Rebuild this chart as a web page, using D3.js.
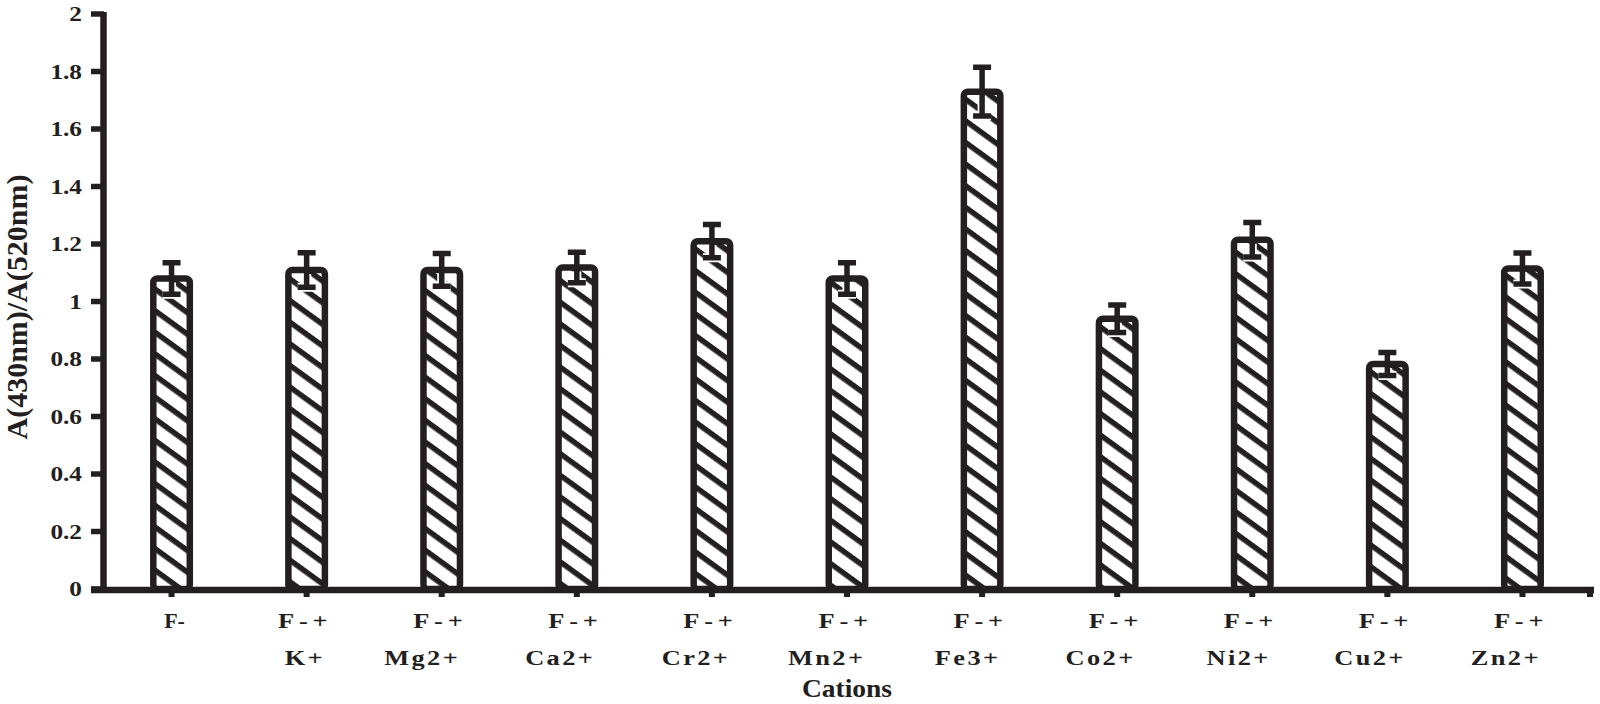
<!DOCTYPE html>
<html>
<head>
<meta charset="utf-8">
<script src="https://cdn.jsdelivr.net/npm/d3@7"></script>
<style>
  body { margin: 0; background: #fff; }
  svg text { font-family: "Liberation Serif", "Times New Roman", serif; font-weight: bold; fill: #231f20; }
</style>
</head>
<body>
<div id="chart"></div>
<script>
// valores
const cations = ["F-", "K+", "Mg2+", "Ca2+", "Cr2+", "Mn2+", "Fe3+", "Co2+", "Ni2+", "Cu2+", "Zn2+"];
const line1 = ["F-", "F-+", "F-+", "F-+", "F-+", "F-+", "F-+", "F-+", "F-+", "F-+", "F-+"];
const line2 = ["", "K+", "Mg2+", "Ca2+", "Cr2+", "Mn2+", "Fe3+", "Co2+", "Ni2+", "Cu2+", "Zn2+"];
const ratio = [1.08, 1.11, 1.11, 1.118, 1.21, 1.08, 1.73, 0.94, 1.215, 0.783, 1.115];
const errors = [0.055, 0.06, 0.057, 0.053, 0.058, 0.055, 0.085, 0.048, 0.06, 0.04, 0.054];
const yTicks = [0, 0.2, 0.4, 0.6, 0.8, 1, 1.2, 1.4, 1.6, 1.8, 2];

const ink = "#231f20";
const width = 1600, height = 704;
const sx = 1.15; // o texto original é um pouco mais largo

const svg = d3.select("#chart")
    .append("svg")
    .attr("width", width)
    .attr("height", height);

// hachura diagonal
const defs = svg.append("defs");
defs.append("pattern")
    .attr("id", "hatch")
    .attr("patternUnits", "userSpaceOnUse")
    .attr("width", 20)
    .attr("height", 17.5)
    .attr("patternTransform", "rotate(36)")
  .append("rect")
    .attr("width", 20)
    .attr("height", 5.5)
    .attr("fill", ink);

const x = d3.scaleBand()
    .domain(cations)
    .range([104, 1590])
    .paddingInner(0)
    .paddingOuter(0);

const y = d3.scaleLinear()
    .domain([0, 2])
    .range([589, 14]);

const barW = 36.5;
const cx = d => x(d) + x.bandwidth() / 2;

// barras
const bars = svg.append("g");
bars.selectAll("rect")
    .data(cations)
    .enter().append("rect")
        .attr("x", d => cx(d) - barW / 2)
        .attr("y", (d, i) => y(ratio[i]))
        .attr("width", barW)
        .attr("height", (d, i) => y(0) - y(ratio[i]))
        .attr("rx", 4)
        .attr("fill", "url(#hatch)")
        .attr("stroke", ink)
        .attr("stroke-width", 6.5);

// barras de erro
const err = svg.append("g");
cations.forEach((c, i) => {
    const xc = cx(c);
    const top = y(ratio[i] + errors[i]);
    const bot = y(ratio[i] - errors[i]);
    const g = err.append("g");
    // contorno branco na parte interna da barra
    g.append("path")
        .attr("d", `M${xc},${y(ratio[i]) + 4}V${bot}M${xc - 9},${bot}H${xc + 9}`)
        .attr("stroke", "#fff")
        .attr("stroke-width", 9)
        .attr("fill", "none");
    g.append("path")
        .attr("d", `M${xc},${top}V${bot}M${xc - 9},${top}H${xc + 9}M${xc - 9},${bot}H${xc + 9}`)
        .attr("stroke", ink)
        .attr("stroke-width", 5.5)
        .attr("fill", "none");
});

// eixo y
const yAxis = svg.append("g");
yAxis.append("line")
    .attr("x1", 103.5).attr("x2", 103.5)
    .attr("y1", 12).attr("y2", 592)
    .attr("stroke", ink).attr("stroke-width", 6.5);
yAxis.selectAll(".tick")
    .data(yTicks)
    .enter().append("line")
        .attr("x1", 91).attr("x2", 104)
        .attr("y1", d => y(d)).attr("y2", d => y(d))
        .attr("stroke", ink).attr("stroke-width", 5.5);
yAxis.selectAll("text")
    .data(yTicks)
    .enter().append("text")
        .attr("transform", d => `translate(82,${y(d)}) scale(${sx},1)`)
        .attr("dy", "0.34em")
        .style("text-anchor", "end")
        .style("font-size", "22px")
        .text(d => d3.format("")(d));

// eixo x
const xAxis = svg.append("g");
xAxis.append("line")
    .attr("x1", 91).attr("x2", 1594)
    .attr("y1", 590).attr("y2", 590)
    .attr("stroke", ink).attr("stroke-width", 6.5);
xAxis.selectAll(".tick")
    .data(cations.map(cx).concat([x.range()[1]]))
    .enter().append("line")
        .attr("x1", d => d).attr("x2", d => d)
        .attr("y1", 590).attr("y2", 597)
        .attr("stroke", ink).attr("stroke-width", 6);

const labels = xAxis.selectAll(".lab")
    .data(cations)
    .enter().append("g")
        .attr("transform", d => `translate(${cx(d)},0)`);
labels.append("text")
    .attr("transform", (d, i) => i === 0 ? "translate(3,628)" : `translate(21,628) scale(1.2,1)`)
    .attr("x", (d, i) => i === 0 ? 0 : 4)
    .style("text-anchor", (d, i) => i === 0 ? "middle" : "end")
    .style("letter-spacing", (d, i) => i === 0 ? "0px" : "4px")
    .style("font-size", "22px")
    .text((d, i) => line1[i]);
labels.append("text")
    .attr("transform", `translate(16,665) scale(1.2,1)`)
    .attr("x", 2)
    .style("text-anchor", "end")
    .style("letter-spacing", "2px")
    .style("font-size", "22px")
    .text((d, i) => line2[i]);

// títulos
svg.append("text")
    .attr("transform", `translate(${(x.range()[0] + x.range()[1]) / 2},697) scale(1.1,1)`)
    .style("text-anchor", "middle")
    .style("font-size", "25px")
    .text("Cations");

svg.append("text")
    .attr("transform", "translate(27,307) rotate(-90)")
    .style("text-anchor", "middle")
    .style("font-size", "30px")
    .text("A(430nm)/A(520nm)");
</script>
</body>
</html>
